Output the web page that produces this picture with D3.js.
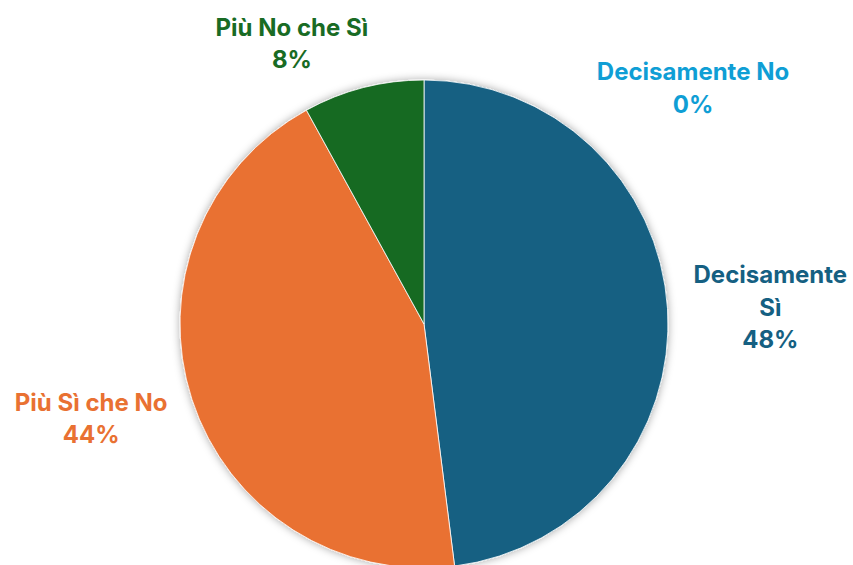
<!DOCTYPE html>
<html lang="it">
<head>
    <meta charset="UTF-8">
    <title>Pie chart</title>
    <style>
        body { margin: 0; background: #fff; }
        text { font-family: Inter, "Open Sans", sans-serif; font-weight: 700; }
    </style>
</head>
<body>
<script src="https://cdn.jsdelivr.net/npm/d3@7/dist/d3.min.js"></script>
<script>
    // categories and values (percent), in drawing order clockwise from top
    const categories = ["Decisamente No", "Decisamente Sì", "Più Sì che No", "Più No che Sì"];
    const values = [0, 48, 44, 8];
    const colors = ["#0F9ED5", "#156082", "#E97132", "#196B24"];
    // label text split in lines
    const labelLines = [["Decisamente No"], ["Decisamente", "Sì"], ["Più Sì che No"], ["Più No che Sì"]];

    var width = 853, height = 565;
    var cx = 424, cy = 324, radius = 244;

    var svg = d3.select("body").append("svg")
        .attr("width", width)
        .attr("height", height);

    // soft shadow like the original
    var defs = svg.append("defs");
    var f = defs.append("filter").attr("id", "shadow")
        .attr("x", "-10%").attr("y", "-10%").attr("width", "120%").attr("height", "120%");
    f.append("feDropShadow")
        .attr("dx", 0).attr("dy", 0)
        .attr("stdDeviation", 4)
        .attr("flood-color", "#000")
        .attr("flood-opacity", 0.35);

    var g = svg.append("g").attr("transform", `translate(${cx},${cy})`);

    var data = categories.map((c, i) => ({ cat: c, value: values[i], color: colors[i], lines: labelLines[i] }));

    var pie = d3.pie().sort(null).value(d => d.value);
    var arc = d3.arc().innerRadius(0).outerRadius(radius);
    var arcs = pie(data);

    g.append("g")
        .attr("filter", "url(#shadow)")
        .selectAll("path")
        .data(arcs)
        .join("path")
            .attr("d", arc)
            .attr("fill", d => d.data.color)
            .attr("stroke", "#fff")
            .attr("stroke-width", 0.8);

    // label placement: radius along mid angle, then small nudges (Excel best fit)
    var labelRadius = [300, 347, 350, 290];
    var nudges = [[269, -236], [0, 5], [0, -14], [-60, 0]];
    var lineH = 32.5;

    var labels = g.append("g")
        .selectAll("text")
        .data(arcs)
        .join("text")
            .attr("text-anchor", "middle")
            .attr("fill", d => d.data.color)
            .style("font-size", "24px")
            .attr("transform", (d, i) => {
                var a = (d.startAngle + d.endAngle) / 2;
                var x = labelRadius[i] * Math.sin(a) + nudges[i][0];
                var y = -labelRadius[i] * Math.cos(a) + nudges[i][1];
                if (d.data.value === 0) { x = nudges[i][0]; y = nudges[i][1]; }
                return `translate(${x},${y})`;
            });

    labels.each(function(d) {
        var t = d3.select(this);
        var lines = d.data.lines.concat([d.data.value + "%"]);
        var n = lines.length;
        lines.forEach((l, k) => {
            t.append("tspan")
                .attr("x", 0)
                .attr("y", (k - (n - 1) / 2) * lineH)
                .attr("dy", "0.36em")
                .text(l);
        });
    });
</script>
</body>
</html>
